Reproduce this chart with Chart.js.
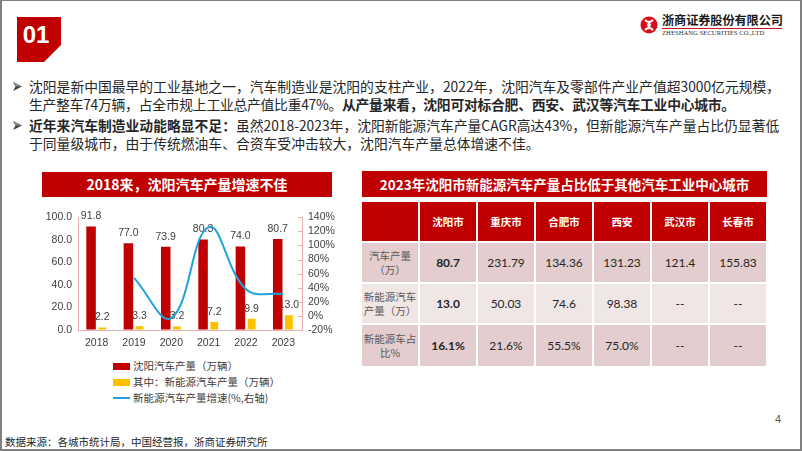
<!DOCTYPE html>
<html><head><meta charset="utf-8">
<script src="https://cdn.jsdelivr.net/npm/chart.js@4.4.1/dist/chart.umd.min.js"></script>
<style>
html,body{margin:0;padding:0;background:#fff;}
#slide{position:relative;width:802px;height:451px;overflow:hidden;font-family:"Noto Sans CJK SC","Noto Sans",sans-serif;color:#262626;}
#frame{position:absolute;left:0;top:0;width:802px;height:451px;box-sizing:border-box;border:2px solid #808080;border-top-width:1px;pointer-events:none;}
.abs{position:absolute;white-space:nowrap;}
#badge{left:17px;top:17px;width:44px;height:45px;background:#C00000;clip-path:polygon(0 0,44px 0,44px 28px,27px 45px,0 45px);}
#badge span{position:absolute;left:0;width:38px;top:4px;text-align:center;color:#fff;font:bold 24px "Liberation Sans",Arial,sans-serif;}
.line{font-size:13.8px;line-height:17px;height:17px;}
b{font-weight:700;}
.bar{background:#C00000;color:#fff;font-weight:700;text-align:center;}
.cell{position:absolute;display:flex;align-items:center;justify-content:center;text-align:center;}
.cell span{display:inline-block;}
.lg{font-size:10.5px;color:#404040;line-height:14px;}
</style></head>
<body>
<div id="slide">
  <div id="badge" class="abs"><span>01</span></div>
  <!-- logo -->
  <svg class="abs" style="left:639px;top:15px" width="20" height="20" viewBox="0 0 20 20">
    <circle cx="10" cy="10" r="8.5" fill="#D50F19"/>
    <path d="M6 5 Q10 9 14 5 M6 15 Q10 11 14 15 M10 8 L10 12" stroke="#fff" stroke-width="1.8" fill="none"/>
    <circle cx="10" cy="10" r="2" fill="#fff"/>
  </svg>
  <div class="abs" style="left:662px;top:13px;font-size:12.2px;font-weight:700;color:#1a1a1a;letter-spacing:-0.1px;line-height:15px;">浙商证券股份有限公司</div>
  <div class="abs" style="left:662px;top:28px;width:120px;height:1px;background:#D50F19;"></div>
  <div class="abs" style="left:662px;top:29px;font:6.6px 'Liberation Serif',serif;color:#333;line-height:8px;letter-spacing:0.05px;">ZHESHANG SECURITIES CO.,LTD</div>

  <!-- bullets -->
  <svg class="abs" style="left:13px;top:82px" width="10" height="9" viewBox="0 0 10 9"><path d="M0 0 L9 4.5 L0 9 L2.5 4.5 Z" fill="#404040"/><path d="M0 0 L9 4.5 L2.5 4.5 Z" fill="#8a8a8a"/></svg>
  <div class="abs line" style="left:29px;top:78px;">沈阳是新中国最早的工业基地之一，汽车制造业是沈阳的支柱产业，2022年，沈阳汽车及零部件产业产值超3000亿元规模，</div>
  <div class="abs line" style="left:29px;top:96px;letter-spacing:-0.25px;">生产整车74万辆，占全市规上工业总产值比重47%。<b>从产量来看，沈阳可对标合肥、西安、武汉等汽车工业中心城市。</b></div>
  <svg class="abs" style="left:13px;top:121px" width="10" height="9" viewBox="0 0 10 9"><path d="M0 0 L9 4.5 L0 9 L2.5 4.5 Z" fill="#404040"/><path d="M0 0 L9 4.5 L2.5 4.5 Z" fill="#8a8a8a"/></svg>
  <div class="abs line" style="left:29px;top:117px;"><b>近年来汽车制造业动能略显不足：</b>虽然2018-2023年，沈阳新能源汽车产量CAGR高达43%，但新能源汽车产量占比仍显著低</div>
  <div class="abs line" style="left:29px;top:135px;">于同量级城市，由于传统燃油车、合资车受冲击较大，沈阳汽车产量总体增速不佳。</div>

  <!-- chart title -->
  <div class="abs bar" style="left:42px;top:172px;width:290px;height:25px;line-height:25px;font-size:14px;">2018来，沈阳汽车产量增速不佳</div>
  <div class="abs" style="left:30px;top:205px;width:305px;height:145px;"><canvas id="c" width="305" height="145"></canvas></div>
  <div id="legend"></div>

  <!-- table -->
  <div class="abs bar" style="left:362px;top:171px;width:405px;height:26px;line-height:26px;font-size:13.5px;">2023年沈阳市新能源汽车产量占比低于其他汽车工业中心城市</div>
  <div id="tbl"></div>

  <div class="abs" style="left:5px;top:434px;font-size:10.5px;line-height:15px;color:#262626;">数据来源：各城市统计局，中国经营报，浙商证券研究所</div>
  <div class="abs" style="left:775px;top:413px;font:11px 'Liberation Sans',Arial,sans-serif;color:#595959;">4</div>
  <div id="frame"></div>
</div>
<script>
// ---- chart data ----
const years = ['2018','2019','2020','2021','2022','2023'];
const totalOutput = [91.8, 77.0, 73.9, 80.3, 74.0, 80.7];
const nevOutput = [2.2, 3.3, 3.2, 7.2, 9.9, 13.0];
const nevGrowth = [null, 54, -3, 126, 38, 31];
const seriesNames = ['沈阳汽车产量（万辆）','其中：新能源汽车产量（万辆）','新能源汽车产量增速(%,右轴)'];
const seriesColors = ['#C00000','#FFC000','#20A3DD'];

// ---- table data ----
const tableCities = ['沈阳市','重庆市','合肥市','西安','武汉市','长春市'];
const rowLabels = ['汽车产量<br>（万）','新能源汽车<br>产量（万）','新能源车占<br>比%'];
const rowOutput = ['80.7','231.79','134.36','131.23','121.4','155.83'];
const rowNev = ['13.0','50.03','74.6','98.38','--','--'];
const rowShare = ['16.1%','21.6%','55.5%','75.0%','--','--'];

const axisColor = '#E6AEAE';
const txt = '#404040';
const numFont = {family:'"Liberation Sans", Arial, sans-serif', size:10.5};

const labelPlugin = {
  id:'barLabels',
  afterDatasetDraw(chart, args){
    if (args.index > 1) return;
    const ctx = chart.ctx;
    const ds = chart.data.datasets[args.index];
    ctx.save();
    ctx.font = '10.5px "Liberation Sans", Arial, sans-serif';
    ctx.fillStyle = txt;
    ctx.textAlign = 'center';
    ctx.textBaseline = 'middle';
    args.meta.data.forEach((el,i)=>{
      ctx.fillText(ds.data[i].toFixed(1), el.x, el.y - 10);
    });
    ctx.restore();
  }
};
const innerTicks = {
  id:'innerTicks',
  afterDraw(chart){
    const s = chart.scales.y1, ctx = chart.ctx;
    ctx.save();
    ctx.strokeStyle = axisColor; ctx.lineWidth = 1;
    s.ticks.forEach(t=>{
      const y = Math.round(s.getPixelForValue(t.value))+0.5;
      ctx.beginPath(); ctx.moveTo(s.left-4, y); ctx.lineTo(s.left, y); ctx.stroke();
    });
    ctx.restore();
  }
};

new Chart(document.getElementById('c'), {
  data:{
    labels: years,
    datasets:[
      {type:'bar', label:seriesNames[0], data:totalOutput, backgroundColor:seriesColors[0], yAxisID:'y', order:1, categoryPercentage:0.6, barPercentage:0.85},
      {type:'bar', label:seriesNames[1], data:nevOutput, backgroundColor:seriesColors[1], yAxisID:'y', order:1, categoryPercentage:0.6, barPercentage:0.7},
      {type:'line', label:seriesNames[2], data:nevGrowth, borderColor:seriesColors[2], borderWidth:2, pointRadius:0, tension:0.4, yAxisID:'y1', order:0}
    ]
  },
  options:{
    responsive:false, animation:false, devicePixelRatio:1,
    layout:{padding:{top:9,left:0,right:0,bottom:0}},
    plugins:{legend:{display:false}, tooltip:{enabled:false}},
    scales:{
      x:{grid:{display:true,drawOnChartArea:false,drawTicks:false,color:axisColor}, border:{display:true,color:axisColor},
         ticks:{font:numFont,color:txt,padding:7,autoSkip:false,maxRotation:0}, afterFit(s){s.height=20;}},
      y:{position:'left',min:0,max:100,grid:{display:true,drawOnChartArea:false,drawTicks:false,color:axisColor},border:{display:true,color:axisColor},
         ticks:{stepSize:20,autoSkip:false,font:numFont,color:txt,padding:6,callback:v=>Number(v).toFixed(1)}, afterFit(s){s.width=48;}},
      y1:{position:'right',min:-20,max:140,grid:{display:true,drawOnChartArea:false,drawTicks:false,color:axisColor},border:{display:true,color:axisColor},
         ticks:{stepSize:20,autoSkip:false,font:numFont,color:txt,padding:6,callback:v=>v+'%'}, afterFit(s){s.width=33;}}
    }
  },
  plugins:[labelPlugin, innerTicks]
});

// legend (HTML)
const lg = document.getElementById('legend');
const lgY = [366, 382, 398];
seriesNames.forEach((n,i)=>{
  const mark = document.createElement('div');
  mark.className='abs';
  if (i<2){ mark.style.cssText=`left:113px;top:${lgY[i]-3}px;width:17px;height:7px;background:${seriesColors[i]};`; }
  else { mark.style.cssText=`left:113px;top:${lgY[i]-1}px;width:17px;height:2px;background:${seriesColors[i]};`; }
  lg.appendChild(mark);
  const t = document.createElement('div');
  t.className='abs lg'; t.style.left='133px'; t.style.top=(lgY[i]-7)+'px'; t.textContent=n;
  lg.appendChild(t);
});

// table
const tbl = document.getElementById('tbl');
const rowTops=[202,243,284,325], rowH=[39,39,39,41];
const rowBg=['#C00000','#E3CDCE','#F1E6E6','#E3CDCE'];
const rows=[[''].concat(tableCities),[rowLabels[0]].concat(rowOutput),[rowLabels[1]].concat(rowNev),[rowLabels[2]].concat(rowShare)];
rows.forEach((r,ri)=>{
  r.forEach((v,ci)=>{
    const d=document.createElement('div');
    d.className='cell';
    d.style.left=(362+ci*58)+'px'; d.style.top=rowTops[ri]+'px';
    d.style.width='56px'; d.style.height=rowH[ri]+'px';
    d.style.background=rowBg[ri];
    if (ri===0){ d.style.color='#fff'; d.style.fontWeight='700'; d.style.fontSize='10.5px'; }
    else if (ci===0){ d.style.color='#595959'; d.style.fontSize='10.5px'; d.style.lineHeight='14px'; }
    else { d.style.color='#262626'; d.style.fontFamily='Lato, "Noto Sans", sans-serif'; d.style.fontSize='12px'; if(ci===1) d.style.fontWeight='700'; }
    const sp=document.createElement('span');
    sp.innerHTML=v;
    d.appendChild(sp);
    tbl.appendChild(d);
  });
});
</script>
</body></html>
